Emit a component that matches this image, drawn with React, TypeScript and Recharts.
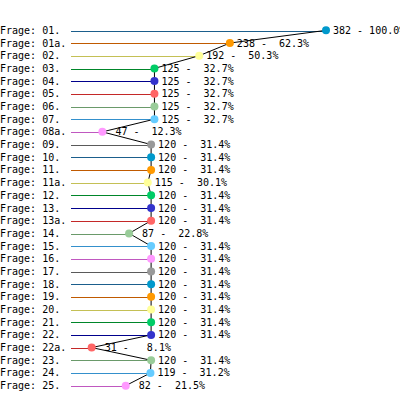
import { Bar, Cell, ComposedChart, Line, XAxis, YAxis } from "recharts";

const QUESTIONS = [
  "Frage: 01.", "Frage: 01a.", "Frage: 02.", "Frage: 03.", "Frage: 04.", "Frage: 05.",
  "Frage: 06.", "Frage: 07.", "Frage: 08a.", "Frage: 09.", "Frage: 10.", "Frage: 11.",
  "Frage: 11a.", "Frage: 12.", "Frage: 13.", "Frage: 13a.", "Frage: 14.", "Frage: 15.",
  "Frage: 16.", "Frage: 17.", "Frage: 18.", "Frage: 19.", "Frage: 20.", "Frage: 21.",
  "Frage: 22.", "Frage: 22a.", "Frage: 23.", "Frage: 24.", "Frage: 25.",
];

const COUNTS = [
  382, 238, 192, 125, 125, 125, 125, 125, 47, 120, 120, 120, 115, 120, 120,
  120, 87, 120, 120, 120, 120, 120, 120, 120, 120, 31, 120, 119, 82,
];

const PERCENTS = [
  100.0, 62.3, 50.3, 32.7, 32.7, 32.7, 32.7, 32.7, 12.3, 31.4, 31.4, 31.4, 30.1, 31.4, 31.4,
  31.4, 22.8, 31.4, 31.4, 31.4, 31.4, 31.4, 31.4, 31.4, 31.4, 8.1, 31.4, 31.2, 21.5,
];

// palette cycles every 10 rows: darker stem, brighter dot
const LINE_COLORS = [
  "#1b5e8c", "#c05a00", "#c4c055", "#00862a", "#00008c",
  "#c42828", "#6a9a6a", "#3490cc", "#c058c0", "#5a5a5a",
];
const DOT_COLORS = [
  "#0099cc", "#ff9900", "#ffff99", "#00cc66", "#3333cc",
  "#ff6666", "#99cc99", "#66ccff", "#ff99ff", "#999999",
];

const FONT = "'DejaVu Sans Mono', monospace";

const data = QUESTIONS.map((name, i) => ({ name, count: COUNTS[i], pct: PERCENTS[i] }));

function QuestionTick(props: any) {
  const { y, payload } = props;
  return (
    <text x={0} y={y} dy={3.5} fontFamily={FONT} fontSize={10} fill="#000" textAnchor="start">
      {payload.value}
    </text>
  );
}

// thin crisp stem instead of a filled bar
function Stem(props: any) {
  const { x, y, width, height, fill } = props;
  const yy = Math.round(y + height / 2) + 0.5;
  return <line x1={x} x2={x + width} y1={yy} y2={yy} stroke={fill} strokeWidth={1} />;
}

function ColoredDot(props: any) {
  const { cx, cy, index } = props;
  return <circle cx={cx} cy={cy} r={4} fill={DOT_COLORS[index % 10]} stroke="none" />;
}

function ValueLabel(props: any) {
  const { x, y, index } = props;
  const d = data[index];
  const txt = `${String(d.count).padStart(3, " ")} - ${d.pct.toFixed(1).padStart(5, " ")}%`;
  return (
    <text
      x={x + 7}
      y={y}
      dy={3.5}
      fontFamily={FONT}
      fontSize={10}
      fill="#000"
      style={{ whiteSpace: "pre" }}
    >
      {txt}
    </text>
  );
}

export default function App() {
  return (
    <div style={{ position: "absolute", left: 0, top: 0, background: "#fff" }}>
      <ComposedChart
        width={400}
        height={398}
        data={data}
        layout="vertical"
        margin={{ top: 24, right: 74, bottom: 6, left: 0 }}
      >
        <XAxis type="number" domain={[0, 382]} hide />
        <YAxis
          type="category"
          dataKey="name"
          width={71}
          axisLine={false}
          tickLine={false}
          interval={0}
          tick={<QuestionTick />}
        />
        <Bar dataKey="count" barSize={1} shape={<Stem />} isAnimationActive={false}>
          {data.map((_, i) => (
            <Cell key={i} fill={LINE_COLORS[i % 10]} />
          ))}
        </Bar>
        <Line
          dataKey="count"
          stroke="#000"
          strokeWidth={1}
          type="linear"
          dot={<ColoredDot />}
          activeDot={false}
          label={<ValueLabel />}
          isAnimationActive={false}
        />
      </ComposedChart>
    </div>
  );
}
